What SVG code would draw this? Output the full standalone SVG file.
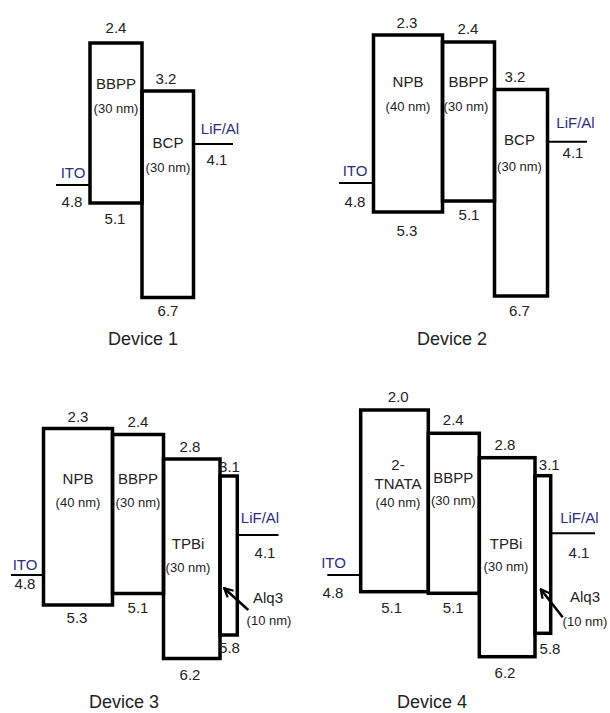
<svg xmlns="http://www.w3.org/2000/svg" width="610" height="713" viewBox="0 0 610 713">
<style>
text{font-family:"Liberation Sans",Arial,sans-serif;fill:#222;text-anchor:middle}
.n{font-size:15px}
.l{font-size:15px}
.s{font-size:13px}
.t{font-size:18px}
.e{font-size:15px;fill:#2b2e7e}
.box{fill:none;stroke:#000;stroke-width:3.5;stroke-linejoin:miter}
.el{stroke:#000;stroke-width:2}
.arr{stroke:#000;stroke-width:2.5;fill:none}
</style>
<defs>
<marker id="ah" viewBox="0 0 10 10" refX="8.5" refY="5" markerWidth="11" markerHeight="11" markerUnits="userSpaceOnUse" orient="auto">
<path d="M1,1 L9,5 L1,9" fill="none" stroke="#000" stroke-width="2"/>
</marker>
</defs>
<rect width="610" height="713" fill="#fff"/>

<!-- Device 1 -->
<g id="device1">
<g id="d1-ito"><line class="el" x1="56" y1="185" x2="90" y2="185"/><text class="e" x="73" y="178">ITO</text><text class="n" x="72" y="206.5">4.8</text></g>
<g id="d1-bbpp"><rect class="box" x="90" y="43" width="52" height="160"/><text class="n" x="116" y="33">2.4</text><text class="l" x="116" y="89">BBPP</text><text class="s" x="116" y="113">(30 nm)</text><text class="n" x="115" y="224">5.1</text></g>
<g id="d1-bcp"><rect class="box" x="142" y="91" width="51.5" height="206.5"/><text class="n" x="166" y="84">3.2</text><text class="l" x="168" y="148">BCP</text><text class="s" x="168" y="172">(30 nm)</text><text class="n" x="168" y="316">6.7</text></g>
<g id="d1-lifal"><line class="el" x1="193.5" y1="144" x2="233" y2="144"/><text class="e" x="220" y="134">LiF/Al</text><text class="n" x="217" y="165">4.1</text></g>
<text class="t" x="143" y="345">Device 1</text>
</g>

<!-- Device 2 -->
<g id="device2">
<g id="d2-ito"><line class="el" x1="339" y1="183" x2="373.5" y2="183"/><text class="e" x="355" y="175.5">ITO</text><text class="n" x="355" y="206.5">4.8</text></g>
<g id="d2-npb"><rect class="box" x="373.5" y="35" width="69" height="177"/><text class="n" x="407" y="28.3">2.3</text><text class="l" x="408" y="86.5">NPB</text><text class="s" x="408" y="110.5">(40 nm)</text><text class="n" x="407" y="236">5.3</text></g>
<g id="d2-bbpp"><rect class="box" x="442.5" y="42" width="52" height="159"/><text class="n" x="468" y="34.3">2.4</text><text class="l" x="468.5" y="86.5">BBPP</text><text class="s" x="466" y="110.5">(30 nm)</text><text class="n" x="469" y="220">5.1</text></g>
<g id="d2-bcp"><rect class="box" x="494.5" y="89.5" width="53" height="206.5"/><text class="n" x="515" y="81.7">3.2</text><text class="l" x="519.5" y="145">BCP</text><text class="s" x="519.5" y="171">(30 nm)</text><text class="n" x="519.5" y="316">6.7</text></g>
<g id="d2-lifal"><line class="el" x1="547.5" y1="141.7" x2="587" y2="141.7"/><text class="e" x="575.5" y="128.3">LiF/Al</text><text class="n" x="573" y="158.3">4.1</text></g>
<text class="t" x="452" y="345">Device 2</text>
</g>

<!-- Device 3 -->
<g id="device3">
<g id="d3-ito"><line class="el" x1="11" y1="575" x2="43.5" y2="575"/><text class="e" x="25" y="570">ITO</text><text class="n" x="25" y="589">4.8</text></g>
<g id="d3-npb"><rect class="box" x="43.5" y="428.5" width="69" height="176.5"/><text class="n" x="78" y="421.7">2.3</text><text class="l" x="78" y="484.3">NPB</text><text class="s" x="78" y="506.7">(40 nm)</text><text class="n" x="77" y="623.3">5.3</text></g>
<g id="d3-bbpp"><rect class="box" x="112.5" y="434.5" width="51" height="159"/><text class="n" x="138" y="427.3">2.4</text><text class="l" x="138" y="484.3">BBPP</text><text class="s" x="138" y="506.7">(30 nm)</text><text class="n" x="138" y="612.7">5.1</text></g>
<g id="d3-tpbi"><rect class="box" x="163.5" y="459" width="56.5" height="199.5"/><text class="n" x="190" y="451.7">2.8</text><text class="l" x="188" y="549">TPBi</text><text class="s" x="188" y="571.7">(30 nm)</text><text class="n" x="190" y="680">6.2</text></g>
<g id="d3-alq3"><rect class="box" x="220" y="476" width="17.3" height="159"/><text class="n" x="229.5" y="471.7">3.1</text><text class="l" x="268" y="603.3">Alq3</text><text class="s" x="269" y="625">(10 nm)</text><text class="n" x="229.5" y="653">5.8</text></g>
<g id="d3-lifal"><line class="el" x1="237.3" y1="535" x2="278.5" y2="535"/><text class="e" x="260" y="523">LiF/Al</text><text class="n" x="265" y="558">4.1</text></g>
<text class="t" x="124" y="708">Device 3</text>
</g>

<!-- Device 4 -->
<g id="device4">
<g id="d4-ito"><line class="el" x1="327.3" y1="575" x2="360.7" y2="575"/><text class="e" x="333.5" y="568.3">ITO</text><text class="n" x="333" y="598">4.8</text></g>
<g id="d4-tnata"><rect class="box" x="360.7" y="410" width="67.6" height="181.7"/><text class="n" x="398.3" y="401.7">2.0</text><text class="l" x="398" y="470">2-</text><text class="l" x="398" y="489.3">TNATA</text><text class="s" x="398" y="506.7">(40 nm)</text><text class="n" x="391.7" y="612.7">5.1</text></g>
<g id="d4-bbpp"><rect class="box" x="428.3" y="433.3" width="51" height="160"/><text class="n" x="453.3" y="425">2.4</text><text class="l" x="453.3" y="483.3">BBPP</text><text class="s" x="453.3" y="505">(30 nm)</text><text class="n" x="453.3" y="612.7">5.1</text></g>
<g id="d4-tpbi"><rect class="box" x="479.3" y="457.7" width="55.7" height="199"/><text class="n" x="505" y="450">2.8</text><text class="l" x="506" y="549">TPBi</text><text class="s" x="506" y="570.7">(30 nm)</text><text class="n" x="505" y="678">6.2</text></g>
<g id="d4-alq3"><rect class="box" x="535" y="475.7" width="15.7" height="157.6"/><text class="n" x="549.3" y="470">3.1</text><text class="l" x="585" y="601.7">Alq3</text><text class="s" x="585" y="626">(10 nm)</text><text class="n" x="550" y="654">5.8</text></g>
<g id="d4-lifal"><line class="el" x1="550.7" y1="533.3" x2="595" y2="533.3"/><text class="e" x="579.3" y="522.7">LiF/Al</text><text class="n" x="579" y="558">4.1</text></g>
<text class="t" x="432" y="708">Device 4</text>
</g>

<g id="connectors">
<line class="arr" x1="248.3" y1="610" x2="224.5" y2="588.5" marker-end="url(#ah)"/>
<line class="arr" x1="562.7" y1="617.3" x2="541" y2="589.5" marker-end="url(#ah)"/>
</g>
</svg>
